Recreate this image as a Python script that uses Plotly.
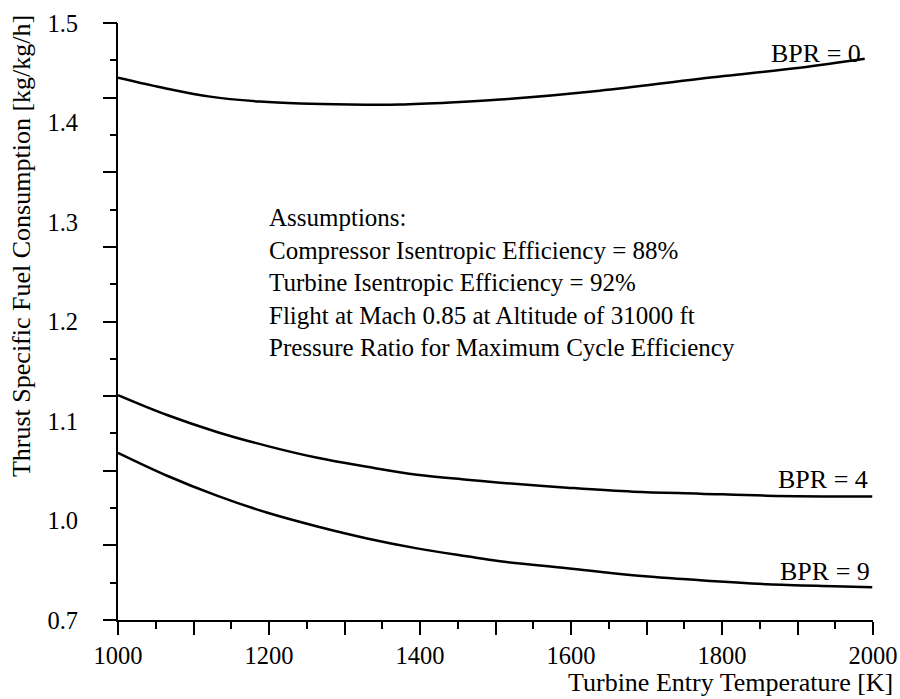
import plotly.graph_objects as go

# ---- data ----
temp_bpr0 = [1000, 1065, 1122, 1188, 1241, 1307, 1373, 1440, 1506, 1638, 1771, 1903, 1989]
tsfc_bpr0 = [1.445, 1.434, 1.426, 1.421, 1.419, 1.418, 1.418, 1.420, 1.423, 1.432, 1.444, 1.455, 1.464]

temp_bpr4 = [1000, 1065, 1131, 1197, 1264, 1330, 1396, 1462, 1506, 1595, 1682, 1771, 1860, 1999]
tsfc_bpr4 = [1.126, 1.106, 1.089, 1.075, 1.063, 1.054, 1.046, 1.041, 1.038, 1.033, 1.029, 1.027, 1.025, 1.024]

temp_bpr9 = [1000, 1065, 1131, 1197, 1264, 1330, 1396, 1462, 1506, 1595, 1682, 1771, 1860, 1948, 1999]
tsfc_bpr9 = [1.068, 1.045, 1.025, 1.008, 0.994, 0.982, 0.972, 0.964, 0.959, 0.952, 0.945, 0.940, 0.936, 0.934, 0.933]

series_names = ["BPR = 0", "BPR = 4", "BPR = 9"]

y_tickvals = [0.9, 1.0, 1.1, 1.2, 1.3, 1.4, 1.5]
y_ticktext = ["0.7", "1.0", "1.1", "1.2", "1.3", "1.4", "1.5"]
x_tickvals = [1000, 1100, 1200, 1300, 1400, 1500, 1600, 1700, 1800, 1900, 2000]
x_ticktext = ["1000", "", "1200", "", "1400", "", "1600", "", "1800", "", "2000"]

assumption_lines = [
    "Assumptions:",
    "Compressor Isentropic Efficiency = 88%",
    "Turbine Isentropic Efficiency = 92%",
    "Flight at Mach 0.85 at Altitude of 31000 ft",
    "Pressure Ratio for Maximum Cycle Efficiency",
]

x_title = "Turbine Entry Temperature [K]"
y_title = "Thrust Specific Fuel Consumption [kg/kg/h]"

FONT = "Liberation Serif, Times New Roman, serif"
FS = 26
FS_TICK = 24.5
FS_BLOCK = 25

fig = go.Figure()
for xs, ys in [(temp_bpr0, tsfc_bpr0), (temp_bpr4, tsfc_bpr4), (temp_bpr9, tsfc_bpr9)]:
    fig.add_trace(go.Scatter(x=xs, y=ys, mode="lines",
                             line=dict(color="black", width=2.5, shape="spline", smoothing=1.0),
                             showlegend=False, hoverinfo="skip"))

# invisible trace on overlay axis to carry the scanned tick marks
fig.add_trace(go.Scatter(x=[1000], y=[1.5], yaxis="y2", mode="markers",
                         marker=dict(opacity=0), showlegend=False, hoverinfo="skip"))

# series labels at curve ends
label_pos = [(1987, 1.469), (1996, 1.041), (1999, 0.949)]
for name, (lx, ly) in zip(series_names, label_pos):
    fig.add_annotation(x=lx, y=ly, text=name, showarrow=False, xanchor="right", yanchor="middle",
                       font=dict(family=FONT, size=FS, color="black"))

# assumptions text block
fig.add_annotation(x=1198, y=1.239, text="<br>".join(assumption_lines), showarrow=False,
                   xanchor="left", yanchor="middle", align="left",
                   font=dict(family=FONT, size=FS_BLOCK, color="black"))

# axis titles
fig.add_annotation(xref="paper", yref="paper", x=1.029, y=-0.104, text=x_title, showarrow=False,
                   xanchor="right", yanchor="middle", font=dict(family=FONT, size=FS, color="black"))
fig.add_annotation(xref="paper", yref="paper", x=-0.128, y=0.627, text=y_title, showarrow=False,
                   textangle=-90, xanchor="center", yanchor="middle",
                   font=dict(family=FONT, size=FS, color="black"))

fig.update_layout(
    width=900, height=699,
    margin=dict(l=118, r=27, t=23, b=79, autoexpand=False),
    paper_bgcolor="white", plot_bgcolor="white",
    font=dict(family=FONT, size=FS, color="black"),
    xaxis=dict(range=[1000, 2000], tickvals=x_tickvals, ticktext=x_ticktext, automargin=False,
               ticks="outside", ticklen=13, tickwidth=2, tickcolor="black",
               minor=dict(tickvals=[v + 50 for v in x_tickvals[:-1]], ticks="outside", ticklen=7,
                          tickwidth=1.5, tickcolor="black"),
               showline=True, linecolor="black", linewidth=2, showgrid=False, zeroline=False,
               tickfont=dict(family=FONT, size=FS_TICK)),
    yaxis=dict(range=[0.9, 1.5], tickvals=y_tickvals, ticktext=y_ticktext, ticks="", automargin=False,
               ticklabelstandoff=33,
               showline=True, linecolor="black", linewidth=2, showgrid=False, zeroline=False,
               tickfont=dict(family=FONT, size=FS_TICK)),
    yaxis2=dict(range=[0.9, 1.5], overlaying="y", side="left", showticklabels=False, automargin=False,
                tick0=0.9, dtick=0.075, ticks="outside", ticklen=14, tickwidth=2, tickcolor="black",
                minor=dict(dtick=0.0375, ticks="outside", ticklen=7, tickwidth=1.5, tickcolor="black"),
                showline=False, showgrid=False, zeroline=False),
)

fig.write_html("out.html")
